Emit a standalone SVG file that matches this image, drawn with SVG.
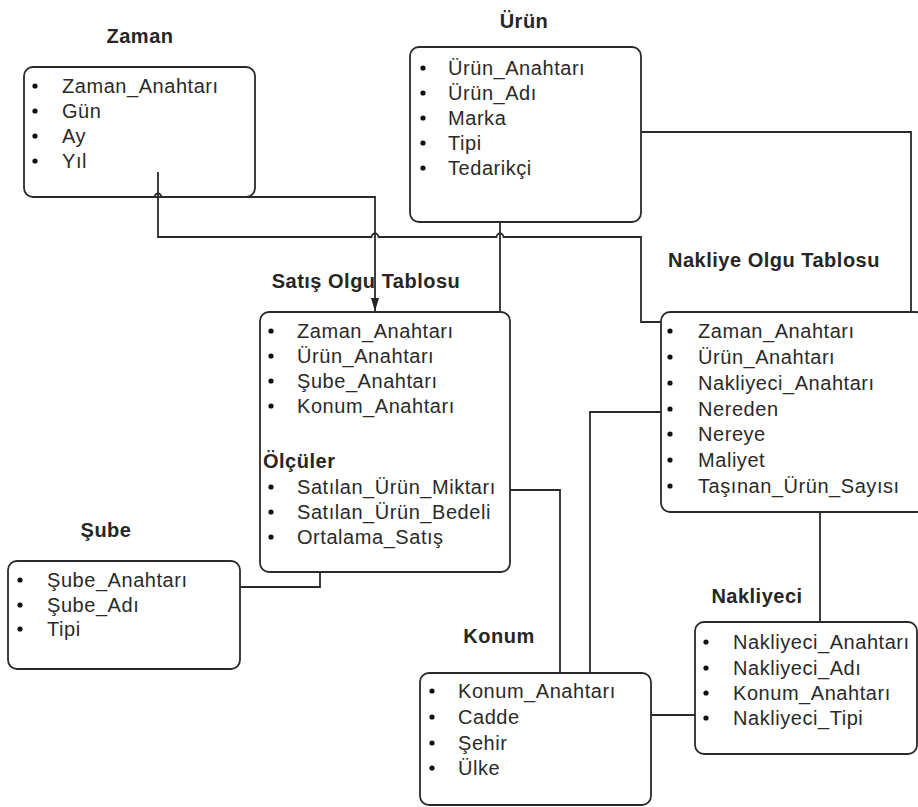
<svg xmlns="http://www.w3.org/2000/svg" width="918" height="807" viewBox="0 0 918 807">
  <defs>
    <marker id="arrow" markerUnits="userSpaceOnUse" markerWidth="13" markerHeight="8" viewBox="0 0 13 8" refX="13" refY="4" orient="auto">
      <path d="M0,0 L13,4 L0,8 z" fill="#222"/>
    </marker>
    <style>
      .box { fill: #fff; stroke: #2a2a2a; stroke-width: 1.8; }
      .title { font-family: "Liberation Sans", Arial, sans-serif; font-size: 20px; font-weight: bold; fill: #262626; text-anchor: middle; letter-spacing: 0.5px; }
      .sub { font-family: "Liberation Sans", Arial, sans-serif; font-size: 20px; font-weight: bold; fill: #262626; letter-spacing: 0.5px; }
      .item { font-family: "Liberation Sans", Arial, sans-serif; font-size: 20px; fill: #2a2a2a; letter-spacing: 0.55px; }
      .dot { fill: #111; }
      .conn { fill: none; stroke: #2a2a2a; stroke-width: 1.8; }
    </style>
  </defs>
  <rect width="918" height="807" fill="#fff"/>

  <!-- Zaman dimension -->
  <g id="zaman">
    <text class="title" x="140" y="43">Zaman</text>
    <rect class="box" x="24" y="67" width="231" height="130" rx="9"/>
    <circle class="dot" cx="35" cy="86" r="2.6"/><text class="item" x="62" y="93">Zaman_Anahtarı</text>
    <circle class="dot" cx="35" cy="111" r="2.6"/><text class="item" x="62" y="118">Gün</text>
    <circle class="dot" cx="35" cy="136" r="2.6"/><text class="item" x="62" y="143">Ay</text>
    <circle class="dot" cx="35" cy="161" r="2.6"/><text class="item" x="62" y="168">Yıl</text>
  </g>

  <!-- Ürün dimension -->
  <g id="urun">
    <text class="title" x="524" y="28">Ürün</text>
    <rect class="box" x="410" y="47" width="231" height="175" rx="9"/>
    <circle class="dot" cx="423" cy="68" r="2.6"/><text class="item" x="448" y="75">Ürün_Anahtarı</text>
    <circle class="dot" cx="423" cy="93" r="2.6"/><text class="item" x="448" y="100">Ürün_Adı</text>
    <circle class="dot" cx="423" cy="118" r="2.6"/><text class="item" x="448" y="125">Marka</text>
    <circle class="dot" cx="423" cy="143" r="2.6"/><text class="item" x="448" y="150">Tipi</text>
    <circle class="dot" cx="423" cy="168" r="2.6"/><text class="item" x="448" y="175">Tedarikçi</text>
  </g>

  <!-- Satış fact table -->
  <g id="satis">
    <text class="title" x="366" y="288">Satış Olgu Tablosu</text>
    <rect class="box" x="260" y="312" width="250" height="260" rx="9"/>
    <circle class="dot" cx="271" cy="331" r="2.6"/><text class="item" x="297" y="338">Zaman_Anahtarı</text>
    <circle class="dot" cx="271" cy="356" r="2.6"/><text class="item" x="297" y="363">Ürün_Anahtarı</text>
    <circle class="dot" cx="271" cy="381" r="2.6"/><text class="item" x="297" y="388">Şube_Anahtarı</text>
    <circle class="dot" cx="271" cy="406" r="2.6"/><text class="item" x="297" y="413">Konum_Anahtarı</text>
    <text class="sub" x="263" y="468">Ölçüler</text>
    <circle class="dot" cx="271" cy="487" r="2.6"/><text class="item" x="297" y="494">Satılan_Ürün_Miktarı</text>
    <circle class="dot" cx="271" cy="512" r="2.6"/><text class="item" x="297" y="519">Satılan_Ürün_Bedeli</text>
    <circle class="dot" cx="271" cy="537" r="2.6"/><text class="item" x="297" y="544">Ortalama_Satış</text>
  </g>

  <!-- Nakliye fact table -->
  <g id="nakliye">
    <text class="title" x="774" y="267">Nakliye Olgu Tablosu</text>
    <rect class="box" x="661" y="312" width="264" height="200" rx="9"/>
    <circle class="dot" cx="670" cy="331" r="2.6"/><text class="item" x="698" y="338">Zaman_Anahtarı</text>
    <circle class="dot" cx="670" cy="357" r="2.6"/><text class="item" x="698" y="364">Ürün_Anahtarı</text>
    <circle class="dot" cx="670" cy="383" r="2.6"/><text class="item" x="698" y="390">Nakliyeci_Anahtarı</text>
    <circle class="dot" cx="670" cy="409" r="2.6"/><text class="item" x="698" y="416">Nereden</text>
    <circle class="dot" cx="670" cy="434" r="2.6"/><text class="item" x="698" y="441">Nereye</text>
    <circle class="dot" cx="670" cy="460" r="2.6"/><text class="item" x="698" y="467">Maliyet</text>
    <circle class="dot" cx="670" cy="486" r="2.6"/><text class="item" x="698" y="493">Taşınan_Ürün_Sayısı</text>
  </g>

  <!-- Şube dimension -->
  <g id="sube">
    <text class="title" x="106" y="537">Şube</text>
    <rect class="box" x="8" y="561" width="232" height="108" rx="9"/>
    <circle class="dot" cx="20" cy="580" r="2.6"/><text class="item" x="47" y="587">Şube_Anahtarı</text>
    <circle class="dot" cx="20" cy="605" r="2.6"/><text class="item" x="47" y="612">Şube_Adı</text>
    <circle class="dot" cx="20" cy="629" r="2.6"/><text class="item" x="47" y="636">Tipi</text>
  </g>

  <!-- Konum dimension -->
  <g id="konum">
    <text class="title" x="499" y="643">Konum</text>
    <rect class="box" x="420" y="673" width="231" height="132" rx="9"/>
    <circle class="dot" cx="432" cy="691" r="2.6"/><text class="item" x="458" y="698">Konum_Anahtarı</text>
    <circle class="dot" cx="432" cy="717" r="2.6"/><text class="item" x="458" y="724">Cadde</text>
    <circle class="dot" cx="432" cy="743" r="2.6"/><text class="item" x="458" y="750">Şehir</text>
    <circle class="dot" cx="432" cy="768" r="2.6"/><text class="item" x="458" y="775">Ülke</text>
  </g>

  <!-- Nakliyeci dimension -->
  <g id="nakliyeci">
    <text class="title" x="757" y="603">Nakliyeci</text>
    <rect class="box" x="695" y="622" width="222" height="132" rx="9"/>
    <circle class="dot" cx="706" cy="642" r="2.6"/><text class="item" x="733" y="649">Nakliyeci_Anahtarı</text>
    <circle class="dot" cx="706" cy="668" r="2.6"/><text class="item" x="733" y="675">Nakliyeci_Adı</text>
    <circle class="dot" cx="706" cy="693" r="2.6"/><text class="item" x="733" y="700">Konum_Anahtarı</text>
    <circle class="dot" cx="706" cy="718" r="2.6"/><text class="item" x="733" y="725">Nakliyeci_Tipi</text>
  </g>

  <!-- Connectors -->
  <g id="connectors">
    <!-- Zaman -> Satış (arrow), with a hop over the Zaman -> Nakliye line -->
    <path class="conn" d="M75,197 H154.5 a3.5,3.5 0 0 1 7,0 H375 V311" marker-end="url(#arrow)"/>
    <!-- Zaman -> Nakliye, hopping over the two vertical links -->
    <path class="conn" d="M158,172 V237 H371.5 a3.5,3.5 0 0 1 7,0 H496.5 a3.5,3.5 0 0 1 7,0 H641 V322 H661"/>
    <!-- Ürün -> Satış -->
    <path class="conn" d="M500,222 V312"/>
    <!-- Ürün -> Nakliye -->
    <path class="conn" d="M641,132 H911 V312"/>
    <!-- Şube -> Satış -->
    <path class="conn" d="M240,587 H320 V572"/>
    <!-- Satış -> Konum -->
    <path class="conn" d="M510,490 H560 V673"/>
    <!-- Nakliye -> Konum -->
    <path class="conn" d="M661,412 H590 V673"/>
    <!-- Konum -> Nakliyeci -->
    <path class="conn" d="M651,715 H695"/>
    <!-- Nakliye -> Nakliyeci -->
    <path class="conn" d="M820,512 V622"/>
  </g>
</svg>
